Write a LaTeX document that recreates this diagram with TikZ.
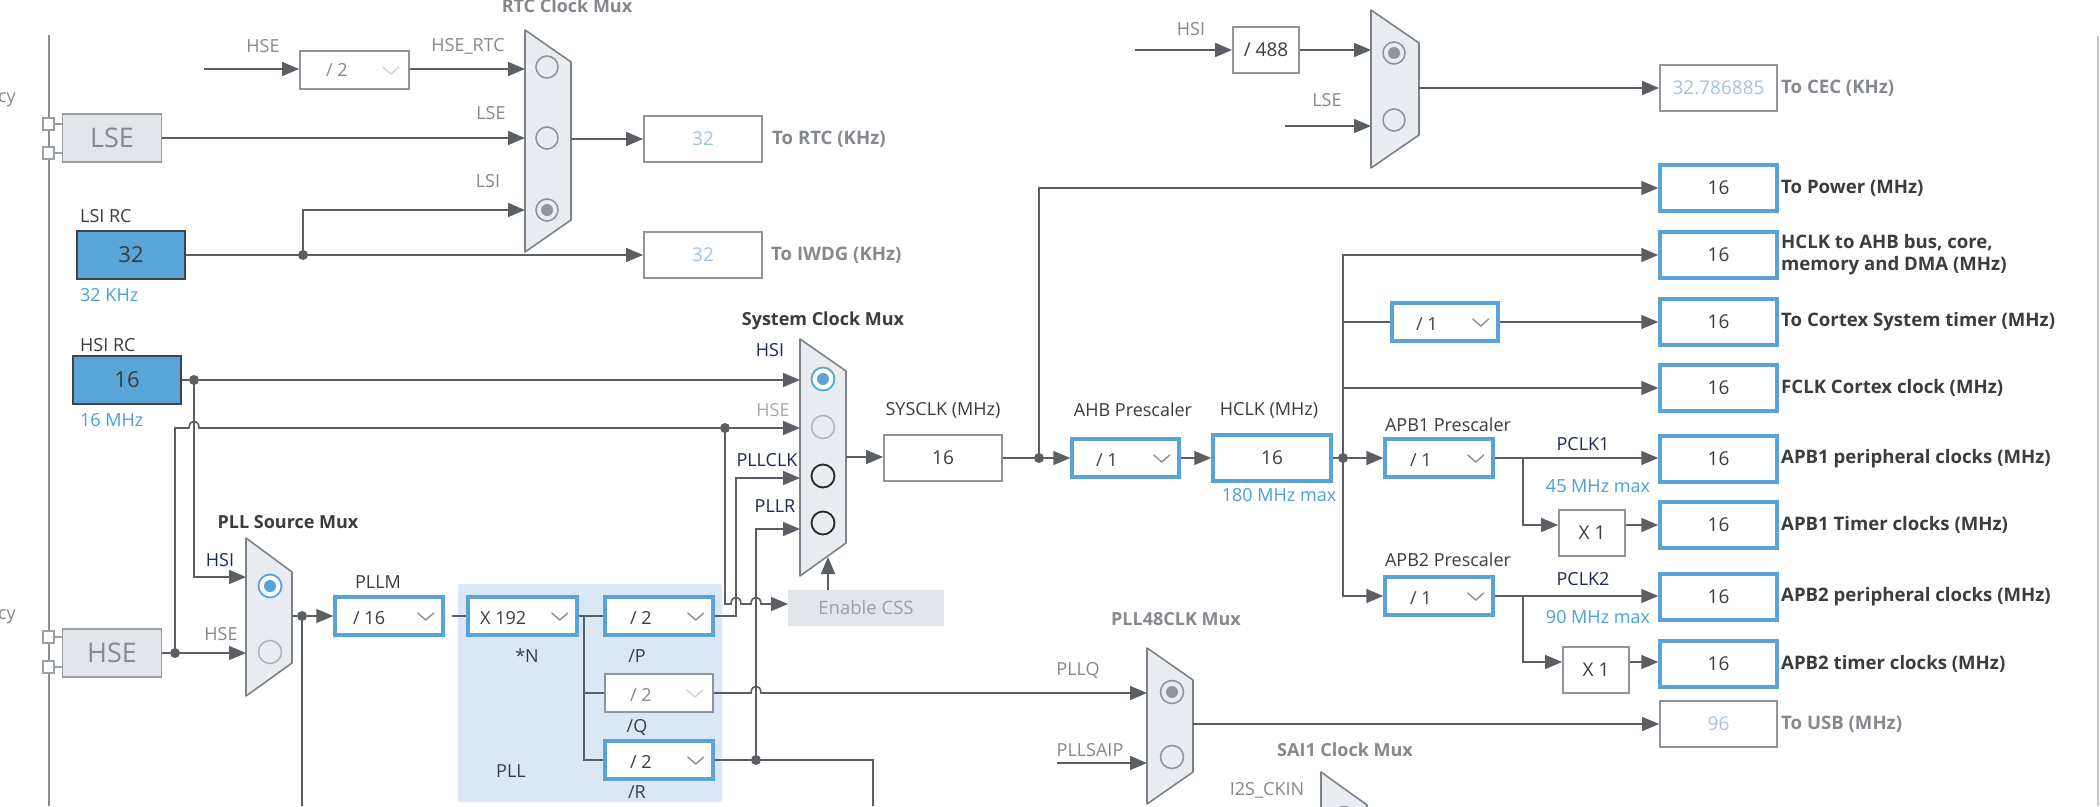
\documentclass[tikz,border=0pt]{standalone}
\usepackage{fontspec}
\setmainfont{Open Sans}
\usetikzlibrary{arrows.meta,calc}
\definecolor{wirec}{HTML}{5B5F64}
\definecolor{gbord}{HTML}{8F959B}
\definecolor{bblue}{HTML}{58A3D7}
\definecolor{muxfill}{HTML}{E9EDF1}
\definecolor{muxbord}{HTML}{7D8288}
\definecolor{gtext}{HTML}{85898E}
\definecolor{dtext}{HTML}{3A3D40}
\definecolor{navy}{HTML}{1D2B4F}
\definecolor{lblue}{HTML}{A5C3E2}
\definecolor{btext}{HTML}{4CA0DB}
\definecolor{ofill}{HTML}{E2E5E9}
\definecolor{obord}{HTML}{9A9FA4}
\definecolor{pllbg}{HTML}{DCE7F5}
\definecolor{railc}{HTML}{8A8E93}
\definecolor{chevc}{HTML}{8A8E93}
\definecolor{chevl}{HTML}{CDD1D5}
\definecolor{oscfill}{HTML}{5AA5D8}
\definecolor{oscbord}{HTML}{3F4348}
\newcommand\chevron[2]{\draw[draw=#1,line width=1.4pt,line cap=round,line join=round] ($(#2.east)+(-27,-3)$) -- ++(8,7) -- ++(8,-7);}
\begin{document}
\begin{tikzpicture}[x=1pt,y=-1pt,
  lab/.style={inner sep=0pt,font=\fontsize{18}{21}\selectfont,text=dtext},
  glab/.style={lab,text=gtext},
  nlab/.style={lab,text=navy},
  blab/.style={lab,text=btext},
  ttl/.style={inner sep=0pt,font=\fontsize{18}{21}\selectfont\bfseries,text=dtext},
  gttl/.style={ttl,text=gtext},
  outl/.style={ttl,anchor=west,font=\fontsize{18.6}{22}\selectfont\bfseries},
  goutl/.style={outl,text=gtext},
  val/.style={inner sep=0pt,font=\fontsize{18}{21}\selectfont,text=dtext,anchor=west},
  bbox/.style={draw=bblue,line width=3.5pt,fill=white,inner sep=0pt,font=\fontsize{19}{22}\selectfont,text=dtext},
  gbox/.style={draw=gbord,line width=1.8pt,fill=white,inner sep=0pt,font=\fontsize{19}{22}\selectfont,text=dtext},
  outsz/.style={minimum width=117pt,minimum height=46pt},
  ddsz/.style={minimum width=108pt,minimum height=38pt},
  osc/.style={draw=oscbord,line width=2.5pt,fill=oscfill,minimum width=108pt,minimum height=48pt,inner sep=0pt,font=\fontsize{22}{26}\selectfont,text=dtext},
  ext/.style={draw=obord,line width=1.8pt,fill=ofill,minimum width=99pt,minimum height=48pt,inner sep=0pt,font=\fontsize{27}{30}\selectfont,text=gtext},
  xpin/.style={draw=obord,line width=1.4pt,fill=white,minimum width=11pt,minimum height=12pt,inner sep=0pt},
  wire/.style={draw=wirec,line width=1.6pt},
  arr/.style={wire,-{Triangle[length=17pt,width=14pt]}},
  jdot/.style={circle,fill=wirec,inner sep=0pt,minimum size=10pt},
  muxs/.style={fill=muxfill,draw=muxbord,line width=1.6pt,line join=round},
  ring/.style={draw=gbord,line width=1.6pt,fill=muxfill},
  bring/.style={draw=bblue,line width=1.8pt,fill=white},
  kring/.style={draw=black!85,line width=1.8pt,fill=muxfill},
  lring/.style={draw=gbord!70,line width=1.6pt,fill=muxfill}
]
\useasboundingbox (0,0) rectangle (2100,806);
\fill[white] (0,0) rectangle (2100,806);
% PLL background
\fill[pllbg,rounded corners=2pt] (458,584) rectangle (722,802);
% rails
\draw[draw=railc,line width=1.4pt] (49,35) -- (49,806);
\draw[draw=railc!50,line width=1.2pt] (2098,36) -- (2098,806);
\node[glab,anchor=east] (cy1) at (16,100) {cy};
\node[glab,anchor=east] (cy2) at (16,617) {cy};

% ---------- external oscillators
\node[ext] (lse) at (112,138) {LSE};
\node[xpin] (lp1) at (48.5,124) {};
\node[xpin] (lp2) at (48.5,153) {};
\draw[draw=obord,line width=1.4pt] (lp1) -- (lp1 -| lse.west);
\draw[draw=obord,line width=1.4pt] (lp2) -- (lp2 -| lse.west);
\node[ext] (hse) at (112,653) {HSE};
\node[xpin] (hp1) at (48.5,637) {};
\node[xpin] (hp2) at (48.5,667) {};
\draw[draw=obord,line width=1.4pt] (hp1) -- (hp1 -| hse.west);
\draw[draw=obord,line width=1.4pt] (hp2) -- (hp2 -| hse.west);

\node[lab,anchor=west] (lsil) at (80,216) {LSI RC};
\node[osc] (lsi) at (131,255) {32};
\node[blab,anchor=west] (lsif) at (80,295) {32 KHz};
\node[lab,anchor=west] (hsil) at (80,345) {HSI RC};
\node[osc] (hsi) at (127,380) {16};
\node[blab,anchor=west] (hsif) at (80,420) {16 MHz};

% ---------- RTC
\node[gttl] (rtct) at (567,6) {RTC Clock Mux};
\node[glab] (rhse) at (263,46) {HSE};
\coordinate (hsefree) at (204,69);
\node[gbox,ddsz,minimum width=109pt] (div2) at (354.5,70) {};
\node[val,text=gtext] (div2t) at (326,70) {/ 2};
\chevron{chevl}{div2}
\node[glab] (rhsertc) at (468,46) {HSE\_RTC};
\node[glab] (rlse) at (491,113) {LSE};
\node[glab] (rlsi) at (488,181) {LSI};
\draw[muxs] (525,30) -- (571,62) -- (571,220) -- (525,252) -- cycle;
\draw[ring] (547,67) circle[radius=11];
\draw[ring] (547,138) circle[radius=11];
\draw[ring] (547,210) circle[radius=11];
\fill[gbord] (547,210) circle[radius=6];
\coordinate (rtcA) at (525,69);
\coordinate (rtcB) at (525,138);
\coordinate (rtcC) at (525,210);
\coordinate (rtcO) at (571,139);
\node[gbox,outsz,minimum width=118pt,text=lblue] (rtcbox) at (703,139) {32};
\node[goutl] (rtcl) at (772,139) {To RTC (KHz)};
\node[gbox,outsz,minimum width=118pt,text=lblue] (iwdg) at (703,255) {32};
\node[goutl] (iwdgl) at (771,255) {To IWDG (KHz)};
\node[jdot] (lsij) at (303,255) {};
\draw[arr] (hsefree) -- (div2.west |- hsefree);
\draw[arr] (div2.east |- rtcA) -- (rtcA);
\draw[arr] (lse.east) -- (rtcB);
\draw[arr] (lsi.east) -- (iwdg.west);
\draw[arr] (lsij.center) |- (rtcC);
\draw[arr] (rtcO) -- (rtcbox.west |- rtcO);

% ---------- CEC
\node[glab] (chsi) at (1191,29) {HSI};
\coordinate (cechsi) at (1135,50);
\node[gbox,minimum width=66pt,minimum height=46pt] (d488) at (1266,50) {/ 488};
\node[glab] (clse) at (1327,100) {LSE};
\coordinate (ceclse) at (1285,126);
\draw[muxs] (1371,10) -- (1419,43) -- (1419,135) -- (1371,168) -- cycle;
\draw[ring] (1394,53) circle[radius=11];
\fill[gbord] (1394,53) circle[radius=6];
\draw[ring] (1394,120) circle[radius=11];
\coordinate (cecA) at (1371,50);
\coordinate (cecB) at (1371,126);
\coordinate (cecO) at (1419,88);
\node[gbox,outsz,text=lblue] (cec) at (1718.5,88) {32.786885};
\node[goutl] (cecl) at (1781,88) {To CEC (KHz)};
\draw[arr] (cechsi) -- (d488.west);
\draw[arr] (d488.east) -- (cecA);
\draw[arr] (ceclse) -- (cecB);
\draw[arr] (cecO) -- (cec.west);

% ---------- right outputs
\node[bbox,outsz] (pwr) at (1718.5,188) {16};
\node[outl] (pwrl) at (1781,188) {To Power (MHz)};
\node[bbox,outsz] (ahbo) at (1718.5,255) {16};
\node[outl,align=left,font=\fontsize{18.6}{22}\selectfont\bfseries] (ahbol) at (1781,255) {HCLK to AHB bus, core,\\memory and DMA (MHz)};
\node[bbox,outsz] (cortex) at (1718.5,322) {16};
\node[outl] (cortexl) at (1781,322) {To Cortex System timer (MHz)};
\node[bbox,outsz] (fclk) at (1718.5,388) {16};
\node[outl] (fclkl) at (1781,388) {FCLK Cortex clock (MHz)};
\node[bbox,outsz] (apb1p) at (1718.5,459) {16};
\node[outl] (apb1pl) at (1781,459) {APB1 peripheral clocks (MHz)};
\node[bbox,outsz] (apb1t) at (1718.5,525) {16};
\node[outl] (apb1tl) at (1781,525) {APB1 Timer clocks (MHz)};
\node[bbox,outsz] (apb2p) at (1718.5,597) {16};
\node[outl] (apb2pl) at (1781,597) {APB2 peripheral clocks (MHz)};
\node[bbox,outsz] (apb2t) at (1718.5,664) {16};
\node[outl] (apb2tl) at (1781,664) {APB2 timer clocks (MHz)};
\node[gbox,outsz,text=lblue] (usb) at (1718.5,724) {96};
\node[goutl] (usbl) at (1781,724) {To USB (MHz)};

% ---------- system clock mux
\node[ttl] (smt) at (823,321) {System Clock Mux};
\draw[muxs] (800,339) -- (846,371) -- (846,543) -- (800,576) -- cycle;
\draw[bring] (823,379) circle[radius=11.5];
\fill[bblue] (823,379) circle[radius=6];
\draw[lring] (823,427) circle[radius=11.5];
\draw[kring] (823,476) circle[radius=11.5];
\draw[kring] (823,523) circle[radius=11.5];
\node[nlab] (smhsi) at (770,350) {HSI};
\node[lab,text=gbord!80] (smhse) at (773,410) {HSE};
\node[nlab] (smpc) at (767,460) {PLLCLK};
\node[nlab] (smpr) at (775,506) {PLLR};
\coordinate (smHSI) at (800,380);
\coordinate (smHSE) at (800,428);
\coordinate (smPC) at (800,478);
\coordinate (smPR) at (800,529);
\coordinate (smO) at (846,457);
\coordinate (smB) at (828,557);
\node[fill=ofill,minimum width=156pt,minimum height=36pt,inner sep=0pt,font=\fontsize{18.5}{21}\selectfont,text=obord] (css) at (866,608) {Enable CSS};
\coordinate (cssin) at (788,604);

\node[gbox,outsz,minimum width=118pt] (sysclk) at (943,458) {16};
\node[lab] (sysclkl) at (943,410) {SYSCLK (MHz)};
\node[bbox,ddsz,minimum width=107pt] (ahb) at (1125.5,458) {};
\node[val] (ahbt) at (1096,460) {/ 1};
\chevron{chevc}{ahb}
\node[lab] (ahbl) at (1133,410) {AHB Prescaler};
\node[bbox,outsz,minimum width=118pt] (hclk) at (1272,458) {16};
\node[lab] (hclkl) at (1269,410) {HCLK (MHz)};
\node[blab] (hclkm) at (1279,495) {180 MHz max};
\node[jdot] (sysj) at (1039,458) {};
\node[jdot] (hclkj) at (1343,458) {};

\node[bbox,ddsz,minimum width=106pt] (cortdiv) at (1445,322) {};
\node[val] (cortdivt) at (1416,324) {/ 1};
\chevron{chevc}{cortdiv}
\node[bbox,ddsz] (apb1) at (1439,458) {};
\node[val] (apb1t1) at (1410,460) {/ 1};
\chevron{chevc}{apb1}
\node[lab] (apb1l) at (1448,425) {APB1 Prescaler};
\node[nlab] (pclk1) at (1583,444) {PCLK1};
\node[blab] (m45) at (1598,486) {45 MHz max};
\node[gbox,minimum width=66pt,minimum height=46pt] (x1a) at (1592,533) {X 1};
\node[bbox,ddsz] (apb2) at (1439,596) {};
\node[val] (apb2t1) at (1410,598) {/ 1};
\chevron{chevc}{apb2}
\node[lab] (apb2l) at (1448,560) {APB2 Prescaler};
\node[nlab] (pclk2) at (1583,579) {PCLK2};
\node[blab] (m90) at (1598,617) {90 MHz max};
\node[gbox,minimum width=66pt,minimum height=46pt] (x1b) at (1596,670) {X 1};
\coordinate (b1) at (1523,458);
\coordinate (b2) at (1523,596);
\coordinate (x1ai) at ([yshift=8pt]x1a.west);
\coordinate (x1ao) at ([yshift=8pt]x1a.east);
\coordinate (x1bi) at ([yshift=8pt]x1b.west);
\coordinate (x1bo) at ([yshift=8pt]x1b.east);

% ---------- PLL source mux & PLL
\node[ttl] (pmt) at (288,522) {PLL Source Mux};
\draw[muxs] (246,538) -- (292,572) -- (292,663) -- (246,696) -- cycle;
\draw[bring] (270,586) circle[radius=11.5];
\fill[bblue] (270,586) circle[radius=6];
\draw[lring] (270,652) circle[radius=11.5];
\node[nlab] (pmhsi) at (220,560) {HSI};
\node[glab] (pmhse) at (221,634) {HSE};
\coordinate (pmHSI) at (246,577);
\coordinate (pmHSE) at (246,653);
\coordinate (pmO) at (292,616);
\node[jdot] (pmj) at (302,616) {};
\node[jdot] (hsij) at (194,380) {};
\node[jdot] (hsej) at (175,653) {};
\node[jdot] (hsej2) at (725,428) {};

\node[bbox,ddsz] (pllm) at (389,616) {};
\node[val] (pllmt) at (353,618) {/ 16};
\chevron{chevc}{pllm}
\node[lab] (pllml) at (378,582) {PLLM};
\node[bbox,ddsz,minimum width=109pt] (x192) at (522.5,616) {};
\node[val] (x192t) at (480,618) {X 192};
\chevron{chevc}{x192}
\node[lab] (nl) at (527,656) {*N};
\node[bbox,ddsz] (pllp) at (659,616) {};
\node[val] (pllpt) at (630,618) {/ 2};
\chevron{chevc}{pllp}
\node[lab] (pl) at (637,656) {/P};
\node[gbox,ddsz] (pllq) at (659,693) {};
\node[val,text=gtext] (pllqt) at (630,695) {/ 2};
\chevron{chevl}{pllq}
\node[lab] (ql) at (637,727) {/Q};
\node[bbox,ddsz] (pllr) at (659,760) {};
\node[val] (pllrt) at (630,762) {/ 2};
\chevron{chevc}{pllr}
\node[lab] (rl) at (637,792) {/R};
\node[lab] (plll) at (511,771) {PLL};
\node[jdot] (rj) at (756,760) {};
\coordinate (rdown) at (873,806);
\coordinate (pmdown) at (302,806);

% ---------- PLL48CLK
\node[gttl] (p48t) at (1176,619) {PLL48CLK Mux};
\draw[muxs] (1147,648) -- (1193,680) -- (1193,772) -- (1147,804) -- cycle;
\draw[ring] (1172,692) circle[radius=11.5];
\fill[gbord] (1172,692) circle[radius=6];
\draw[ring] (1172,757) circle[radius=11.5];
\node[glab] (pllql) at (1078,670) {PLLQ};
\node[glab] (plls) at (1090,750) {PLLSAIP};
\coordinate (p48A) at (1147,693);
\coordinate (p48B) at (1147,763);
\coordinate (p48O) at (1193,724);
\coordinate (saifree) at (1057,763);

% ---------- SAI1
\node[gttl,anchor=west] (sait) at (1277,750) {SAI1 Clock Mux};
\node[glab] (i2s) at (1267,790) {I2S\_CKIN};
\begin{scope}
\clip (0,0) rectangle (2100,806);
\draw[muxs] (1321,772) -- (1367,805) -- (1367,900) -- (1321,940) -- cycle;
\draw[ring] (1344,818) circle[radius=11.5];
\end{scope}

% ---------- wires
\draw[wire] (hsi.east) -- (hsij);
\draw[arr] (hsij) -- (smHSI);
\draw[arr] (hsij.center) |- (pmHSI);
\draw[wire] (hse.east) -- (hsej);
\draw[arr] (hsej) -- (pmHSE);
\draw[wire] (hsej.center) -- (175,428) -- (189,428) .. controls (189,419) and (199,419) .. (199,428) -- (hsej2.center);
\draw[arr] (hsej2) -- (smHSE);
\draw[arr] (hsej2.center) -- (725,604) -- (731,604) .. controls (731,595) and (741,595) .. (741,604) -- (751,604) .. controls (751,595) and (761,595) .. (761,604) -- (cssin);
\draw[arr] ([xshift=-38pt]css.north) -- (smB);
\draw[wire] (pmO) -- (pmj);
\draw[arr] (pmj) -- (pllm.west);
\draw[wire] (pmj.center) -- (pmdown);
\draw[wire,shorten <=7pt] (pllm.east) -- (x192.west);
\draw[wire] (x192.east) -- (pllp.west);
\draw[wire] (584,616) |- (pllr.west);
\draw[wire] (584,693) -- (pllq.west);
\draw[arr] (pllp.east) -- (736,616) -- (736,478) -- (smPC);
\draw[wire] (pllr.east) -- (rj);
\draw[arr] (rj.center) -- (756,529) -- (smPR);
\draw[wire] (rj.center) -| (rdown);
\draw[arr] (pllq.east) -- (751,693) .. controls (751,684) and (761,684) .. (761,693) -- (p48A);
\draw[arr] (saifree) -- (p48B);
\draw[arr] (p48O) -- (usb.west);

\draw[arr] (smO) -- (sysclk.west |- smO);
\draw[wire] (sysclk.east) -- (sysj);
\draw[arr] (sysj) -- (ahb.west);
\draw[arr] (sysj.center) |- (pwr.west);
\draw[arr] (ahb.east) -- (hclk.west);
\draw[wire] (hclk.east) -- (hclkj);
\draw[arr] (hclkj) -- (apb1.west);
\draw[arr] (hclkj.center) |- (ahbo.west);
\draw[wire] (hclkj.center |- cortdiv.west) -- (cortdiv.west);
\draw[arr] (cortdiv.east) -- (cortex.west);
\draw[arr] (hclkj.center |- fclk.west) -- (fclk.west);
\draw[arr] (hclkj.center) |- (apb2.west);
\draw[arr] (apb1.east) -- (apb1.east -| apb1p.west);
\draw[arr] (b1) |- (x1ai);
\draw[arr] (x1ao) -- (x1ao -| apb1t.west);
\draw[arr] (apb2.east) -- (apb2.east -| apb2p.west);
\draw[arr] (b2) |- (x1bi);
\draw[arr] (x1bo) -- (x1bo -| apb2t.west);
\end{tikzpicture}
\end{document}
